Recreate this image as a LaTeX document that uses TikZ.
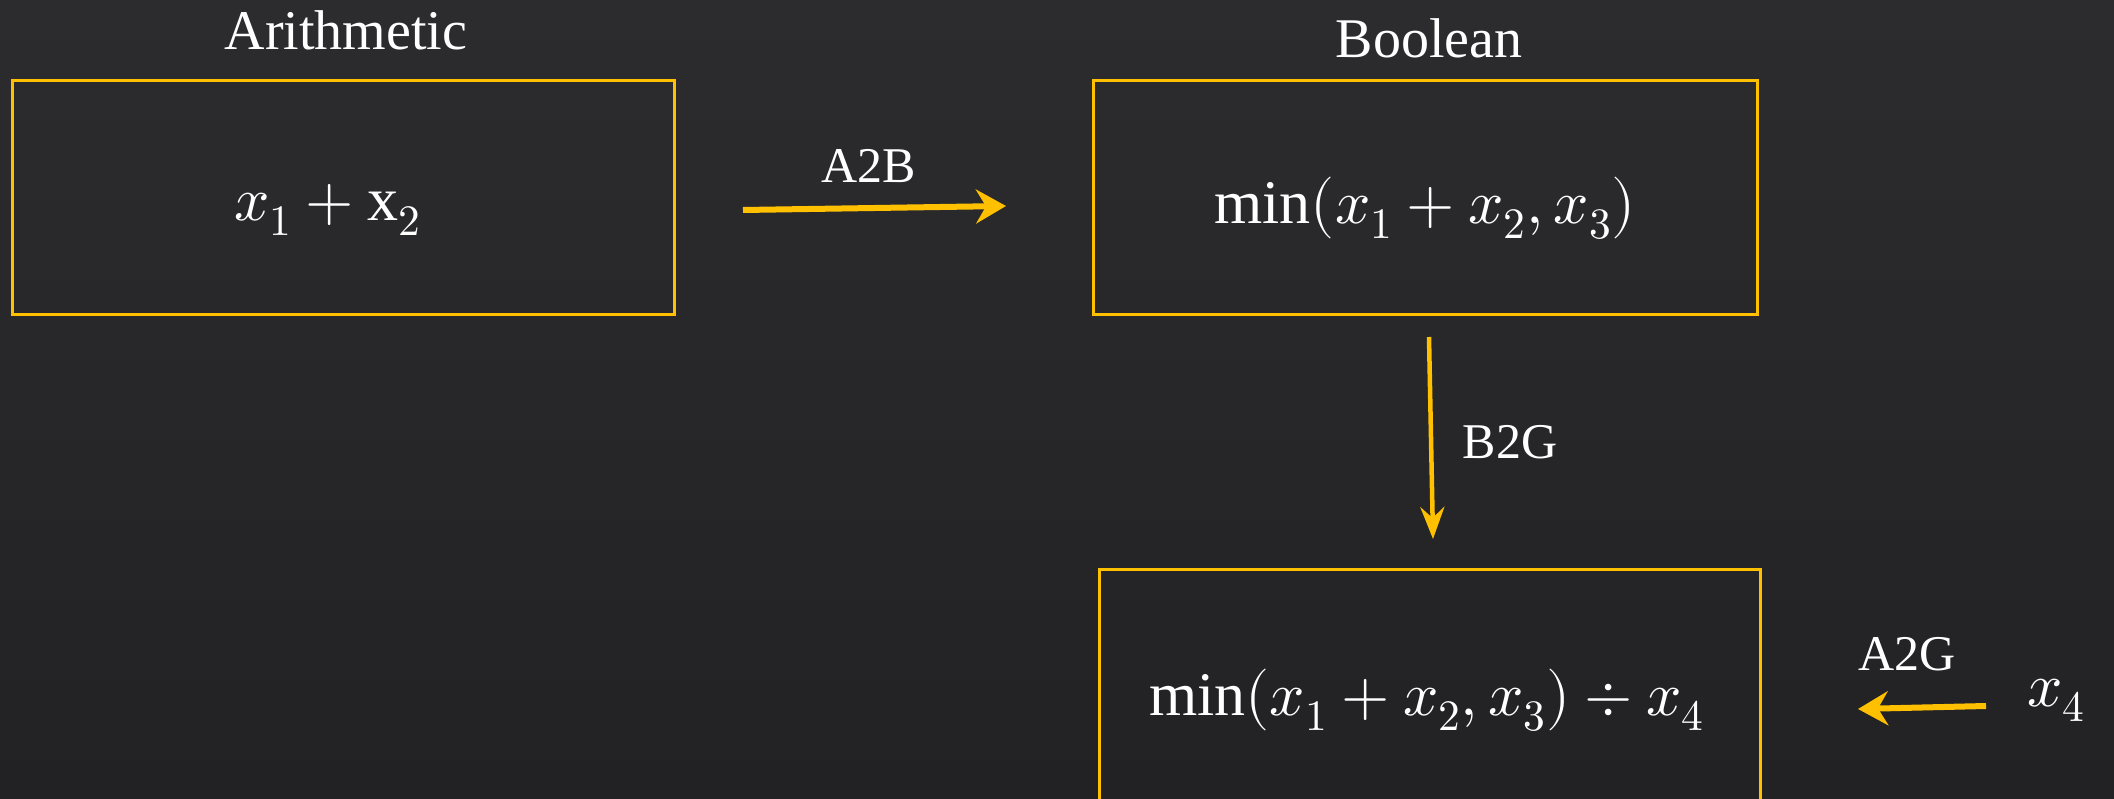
\documentclass[tikz,border=0pt]{standalone}
\usepackage{fontspec}
\usepackage{unicode-math}
\setmainfont{Liberation Serif}
\setmathfont{Latin Modern Math}
\usetikzlibrary{arrows.meta}
\definecolor{bgtop}{HTML}{2C2C2E}
\definecolor{bgbot}{HTML}{222224}
\definecolor{gold}{HTML}{FFC000}
\begin{document}
\begin{tikzpicture}[x=1pt,y=-1pt,
  box/.style={draw=gold, line width=3pt, inner sep=0pt},
  mth/.style={text=white, inner sep=0pt, font=\fontsize{62}{70}\selectfont},
  lbl/.style={text=white, inner sep=0pt, font=\fontsize{56}{64}\selectfont},
  small/.style={text=white, inner sep=0pt, font=\fontsize{50}{58}\selectfont},
  thick conn/.style={draw=gold, line width=6pt,
    -{Stealth[length=30pt,width=34pt,inset=10pt]}},
  thin conn/.style={draw=gold, line width=4.5pt,
    -{Stealth[length=32pt,width=24pt,inset=11pt]}}]
\fill[top color=bgtop, bottom color=bgbot] (0,0) rectangle (2114,799);
\clip (0,0) rectangle (2114,799);

% boxes
\node[box, minimum width=662pt, minimum height=234pt] (arith) at (343,198) {};
\node[box, minimum width=664pt, minimum height=234pt] (bool) at (1425,198) {};
\node[box, minimum width=661pt, minimum height=256pt] (garb) at (1429.5,697) {};

% box contents
\node[mth] (arithtxt) at (327.5,210) {$x_1+\mathrm{x}_2$};
\node[mth] (booltxt) at (1425,208) {$\min(x_1+x_2,x_3)$};
\node[mth] (garbtxt) at (1426.5,700) {$\min(x_1+x_2,x_3)\div x_4$};

% titles
\node[lbl] (tarith) at (346,30) {Arithmetic};
\node[lbl] (tbool) at (1429,38) {Boolean};

% x4 input
\node[mth] (xfour) at (2056,700) {$x_4$};

% connector ends
\coordinate (a2bs) at (743,210);
\coordinate (a2be) at (1006,206);
\coordinate (b2gs) at (1429,337);
\coordinate (b2ge) at (1433,539);
\coordinate (a2gs) at (1986,706);
\coordinate (a2ge) at (1858,709);

\draw[thick conn] (a2bs) -- (a2be);
\draw[thin conn] (b2gs) -- (b2ge);
\draw[thick conn] (a2gs) -- (a2ge);

% connector labels
\node[small] (la2b) at (869,166) {A2B};
\node[small] (lb2g) at (1510,442) {B2G};
\node[small] (la2g) at (1907,654) {A2G};
\end{tikzpicture}
\end{document}
